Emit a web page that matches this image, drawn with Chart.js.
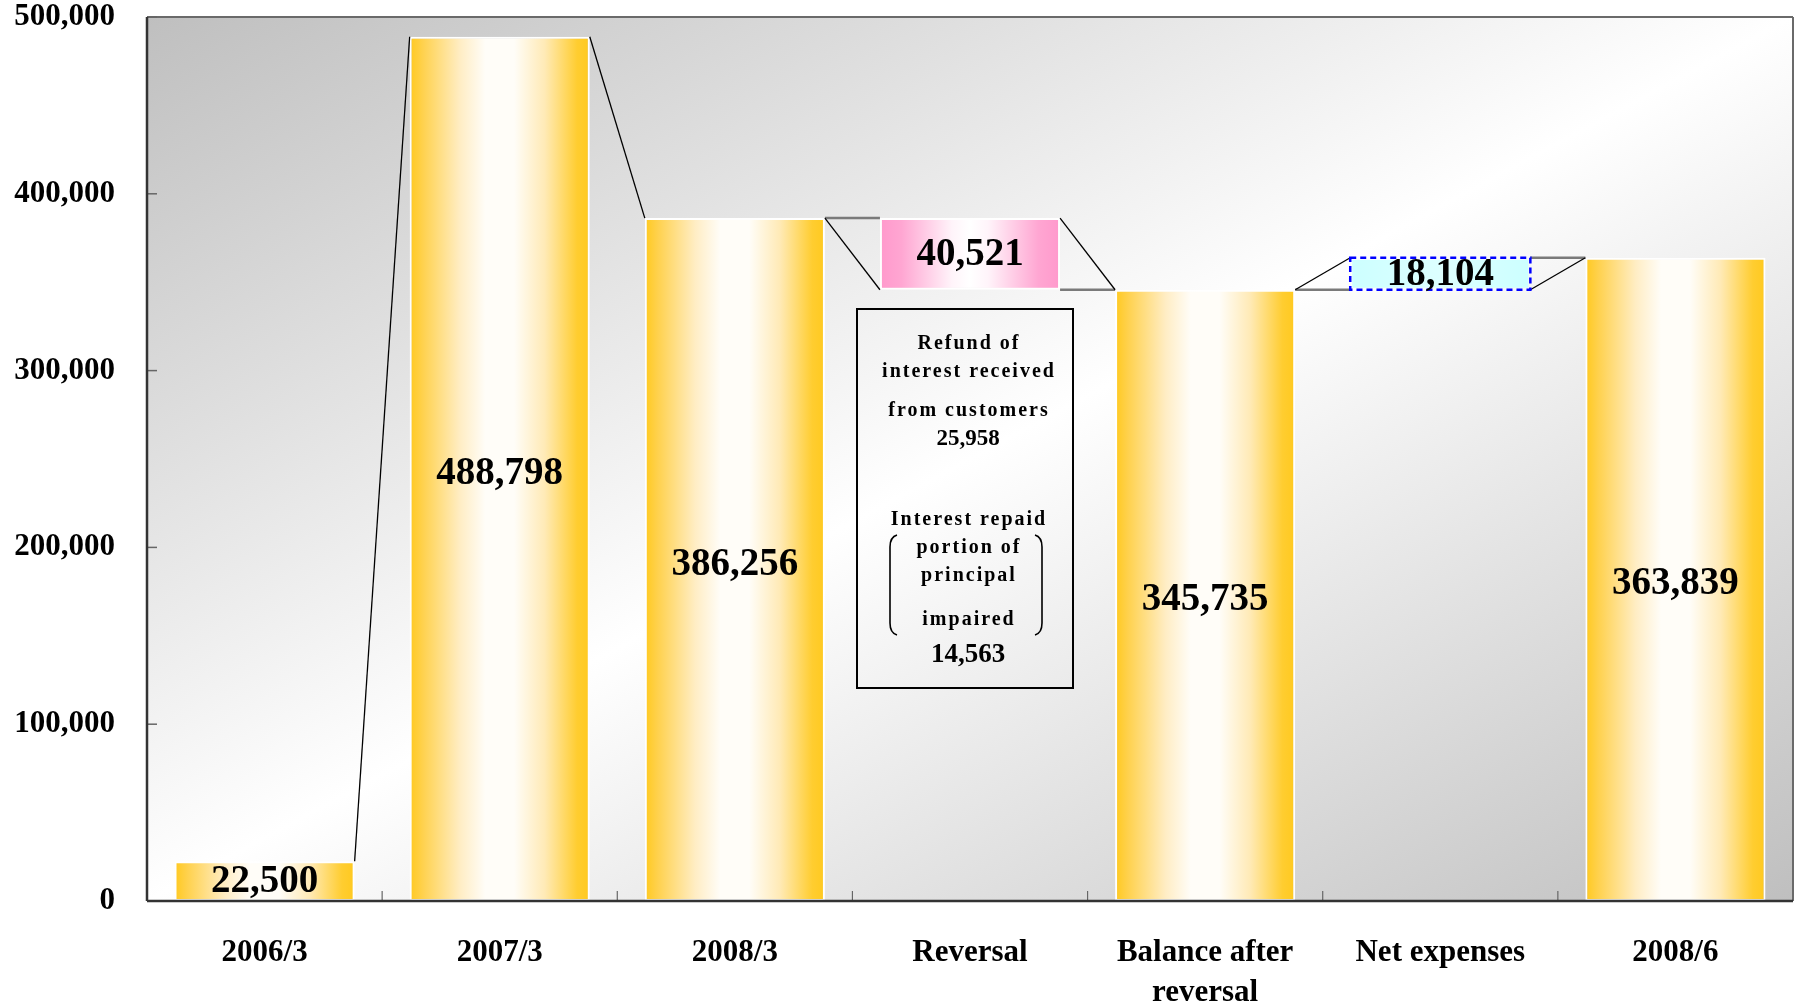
<!DOCTYPE html>
<html><head><meta charset="utf-8">
<script src="https://cdn.jsdelivr.net/npm/chart.js@4.4.1/dist/chart.umd.min.js"></script>
<style>html,body{margin:0;padding:0;background:#fff;}canvas{display:block;}</style>
</head><body>
<canvas id="c" width="1800" height="1007"></canvas>
<script>
// ---- data ----
const categories = ['2006/3', '2007/3', '2008/3', 'Reversal', ['Balance after', 'reversal'], 'Net expenses', '2008/6'];
const barStart = [0, 0, 0, 345735, 0, 345735, 0];
const barEnd = [22500, 488798, 386256, 386256, 345735, 363839, 363839];
const barLabels = ['22,500', '488,798', '386,256', '40,521', '345,735', '18,104', '363,839'];
const barKinds = ['total', 'total', 'total', 'decrease', 'total', 'increase', 'total'];
const yTickValues = [0, 100000, 200000, 300000, 400000, 500000];
const noteLines1 = ['Refund of', 'interest received', 'from customers'];
const noteValue1 = '25,958';
const noteLines2 = ['Interest repaid', 'portion of', 'principal', 'impaired'];
const noteValue2 = '14,563';

const SERIF = "'Liberation Serif', 'Times New Roman', serif";
const BAR_PCT = 0.766;

function barFill(ctx) {
  const chart = ctx.chart, i = ctx.dataIndex;
  const xs = chart.scales && chart.scales.x;
  if (!xs || !chart.chartArea || i === undefined) return '#FFD040';
  const cx = xs.getPixelForValue(i);
  const w = xs.width / categories.length * BAR_PCT;
  const g = chart.ctx.createLinearGradient(cx - w / 2, 0, cx + w / 2, 0);
  const kind = barKinds[i];
  if (kind === 'decrease') {
    g.addColorStop(0, '#FF99CC'); g.addColorStop(0.12, '#FFA6D2');
    g.addColorStop(0.4, '#FFF4FA'); g.addColorStop(0.5, '#FFFFFF'); g.addColorStop(0.6, '#FFF4FA');
    g.addColorStop(0.88, '#FFA6D2'); g.addColorStop(1, '#FF99CC');
  } else if (kind === 'increase') {
    g.addColorStop(0, '#CCFFFF'); g.addColorStop(0.5, '#DDFFFF'); g.addColorStop(1, '#CCFFFF');
  } else {
    g.addColorStop(0, '#FFC91F'); g.addColorStop(0.07, '#FFD14C');
    g.addColorStop(0.28, '#FFEDC4'); g.addColorStop(0.42, '#FFFDF8'); g.addColorStop(0.58, '#FFFDF8');
    g.addColorStop(0.75, '#FFEAB6'); g.addColorStop(0.93, '#FFCD30'); g.addColorStop(1, '#FFC91F');
  }
  return g;
}

const bgPlugin = {
  id: 'bg',
  beforeDraw(chart) {
    const a = chart.chartArea, c = chart.ctx;
    const cx = (a.left + a.right) / 2, cy = (a.top + a.bottom) / 2;
    const W = a.right - a.left, H = a.bottom - a.top;
    const len = Math.hypot(H, W);
    const ux = H / len, uy = W / len;
    const proj = (W / 2) * ux + (H / 2) * uy;
    const g = c.createLinearGradient(cx - proj * ux, cy - proj * uy, cx + proj * ux, cy + proj * uy);
    g.addColorStop(0, '#BFBFBF'); g.addColorStop(0.5, '#FFFFFF'); g.addColorStop(1, '#BFBFBF');
    c.save(); c.fillStyle = g; c.fillRect(a.left, a.top, W, H); c.restore();
  }
};

function line(c, x1, y1, x2, y2, color, w) {
  c.beginPath(); c.moveTo(x1, y1); c.lineTo(x2, y2);
  c.strokeStyle = color; c.lineWidth = w; c.stroke();
}

const decoPlugin = {
  id: 'deco',
  afterDatasetsDraw(chart) {
    const c = chart.ctx, a = chart.chartArea;
    const ys = chart.scales.y, xs = chart.scales.x;
    const els = chart.getDatasetMeta(0).data;
    c.save();
    // connectors
    for (let i = 0; i < els.length - 1; i++) {
      const e1 = els[i], e2 = els[i + 1];
      const r = e1.x + e1.width / 2, l = e2.x - e2.width / 2;
      const k1 = barKinds[i], k2 = barKinds[i + 1];
      const top1 = ys.getPixelForValue(barEnd[i]), bot1 = ys.getPixelForValue(barStart[i]);
      const top2 = ys.getPixelForValue(barEnd[i + 1]), bot2 = ys.getPixelForValue(barStart[i + 1]);
      const H = '#7A7A7A', D = '#000000';
      if (k1 === 'total' && k2 === 'total') {
        line(c, r, top1, l, top2, D, 1.3);
      } else if (k1 === 'total' && k2 === 'decrease') {
        line(c, r, top1, l, top1, H, 2.5); line(c, r, top1, l, bot2, D, 1.3);
      } else if (k1 === 'decrease' && k2 === 'total') {
        line(c, r, bot1, l, bot1, H, 2.5); line(c, r, top1, l, top2, D, 1.3);
      } else if (k1 === 'total' && k2 === 'increase') {
        line(c, r, top1, l, top1, H, 2.5); line(c, r, top1, l, top2, D, 1.3);
      } else if (k1 === 'increase' && k2 === 'total') {
        line(c, r, top1, l, top1, H, 2.5); line(c, r, bot1, l, top2, D, 1.3);
      }
    }
    // dashed border for increase bars
    els.forEach((e, i) => {
      if (barKinds[i] !== 'increase') return;
      c.setLineDash([6, 4]); c.strokeStyle = '#0000FF'; c.lineWidth = 2.5;
      c.strokeRect(e.x - e.width / 2, e.y, e.width, e.base - e.y);
      c.setLineDash([]);
    });
    // frame
    line(c, a.left, a.top, a.right, a.top, '#6A6A6A', 2);
    line(c, a.right, a.top, a.right, a.bottom, '#6A6A6A', 2);
    // inner ticks
    yTickValues.forEach(v => {
      const y = ys.getPixelForValue(v);
      line(c, a.left, y, a.left + 10, y, '#666', 1.5);
    });
    for (let i = 1; i < categories.length; i++) {
      const x = (xs.getPixelForValue(i - 1) + xs.getPixelForValue(i)) / 2;
      line(c, x, a.bottom, x, a.bottom - 10, '#666', 1.2);
    }
    line(c, a.left, a.top, a.left, a.bottom, '#333', 2.5);
    line(c, a.left, a.bottom, a.right, a.bottom, '#333', 2.5);
    // value labels
    c.fillStyle = '#000'; c.font = 'bold 39px ' + SERIF;
    c.textAlign = 'center'; c.textBaseline = 'middle';
    els.forEach((e, i) => {
      const off = barKinds[i] === 'total' && (e.base - e.y) > 100 ? 5 : 1;
      c.fillText(barLabels[i], e.x, (e.y + e.base) / 2 + off);
    });
    // annotation box
    const bx = xs.getPixelForValue(3) - 2;
    const boxL = bx - 111, boxR = bx + 105, boxT = 309, boxB = 688;
    c.strokeStyle = '#000'; c.lineWidth = 2;
    c.strokeRect(boxL, boxT, boxR - boxL, boxB - boxT);
    const tx = bx;
    c.font = 'bold 20px ' + SERIF;
    try { c.letterSpacing = '2px'; } catch (err) {}
    const y1 = [344, 372, 411];
    noteLines1.forEach((t, i) => c.fillText(t, tx + 1, y1[i]));
    const y2 = [520, 548, 576, 620];
    noteLines2.forEach((t, i) => c.fillText(t, tx + 1, y2[i]));
    try { c.letterSpacing = '0px'; } catch (err) {}
    c.font = 'bold 23px ' + SERIF;
    c.fillText(noteValue1, tx, 439);
    c.font = 'bold 27px ' + SERIF;
    c.fillText(noteValue2, tx, 655);
    // brackets
    const lx = bx - 78, rx = bx + 74, bt = 535, bb = 635;
    c.lineWidth = 1.6; c.strokeStyle = '#000';
    c.beginPath(); c.moveTo(lx + 7, bt); c.quadraticCurveTo(lx, bt + 2, lx, bt + 12);
    c.lineTo(lx, bb - 12); c.quadraticCurveTo(lx, bb - 2, lx + 7, bb); c.stroke();
    c.beginPath(); c.moveTo(rx - 7, bt); c.quadraticCurveTo(rx, bt + 2, rx, bt + 12);
    c.lineTo(rx, bb - 12); c.quadraticCurveTo(rx, bb - 2, rx - 7, bb); c.stroke();
    c.restore();
  }
};

new Chart(document.getElementById('c'), {
  type: 'bar',
  data: {
    labels: categories,
    datasets: [{
      data: barStart.map((s, i) => [s, barEnd[i]]),
      backgroundColor: barFill,
      borderColor: (ctx) => barKinds[ctx.dataIndex] === 'increase' ? 'rgba(0,0,0,0)' : '#FFFFFF',
      borderWidth: 2,
      borderSkipped: false,
      categoryPercentage: 1,
      barPercentage: BAR_PCT
    }]
  },
  options: {
    responsive: false,
    animation: false,
    layout: { padding: { left: 0, right: 7, top: 17, bottom: 0 } },
    plugins: { legend: { display: false }, tooltip: { enabled: false } },
    scales: {
      x: {
        grid: { display: false, drawTicks: false },
        border: { display: false },
        afterFit: (s) => { s.height = 106; s.paddingLeft = 0; s.paddingRight = 0; },
        ticks: {
          color: '#000', padding: 32, maxRotation: 0, minRotation: 0, autoSkip: false,
          font: { family: SERIF, weight: 'bold', size: 31, lineHeight: 1.3 }
        }
      },
      y: {
        min: 0, max: 500000,
        grid: { display: false, drawTicks: false },
        border: { display: false },
        afterBuildTicks: (scale) => { scale.ticks = yTickValues.map(v => ({ value: v })); },
        afterFit: (s) => { s.width = 147; s.paddingTop = 0; s.paddingBottom = 0; },
        ticks: {
          color: '#000', padding: 32,
          font: { family: SERIF, weight: 'bold', size: 31 },
          callback: (v) => Number(v).toLocaleString('en-US')
        }
      }
    }
  },
  plugins: [bgPlugin, decoPlugin]
});
</script>
</body></html>
